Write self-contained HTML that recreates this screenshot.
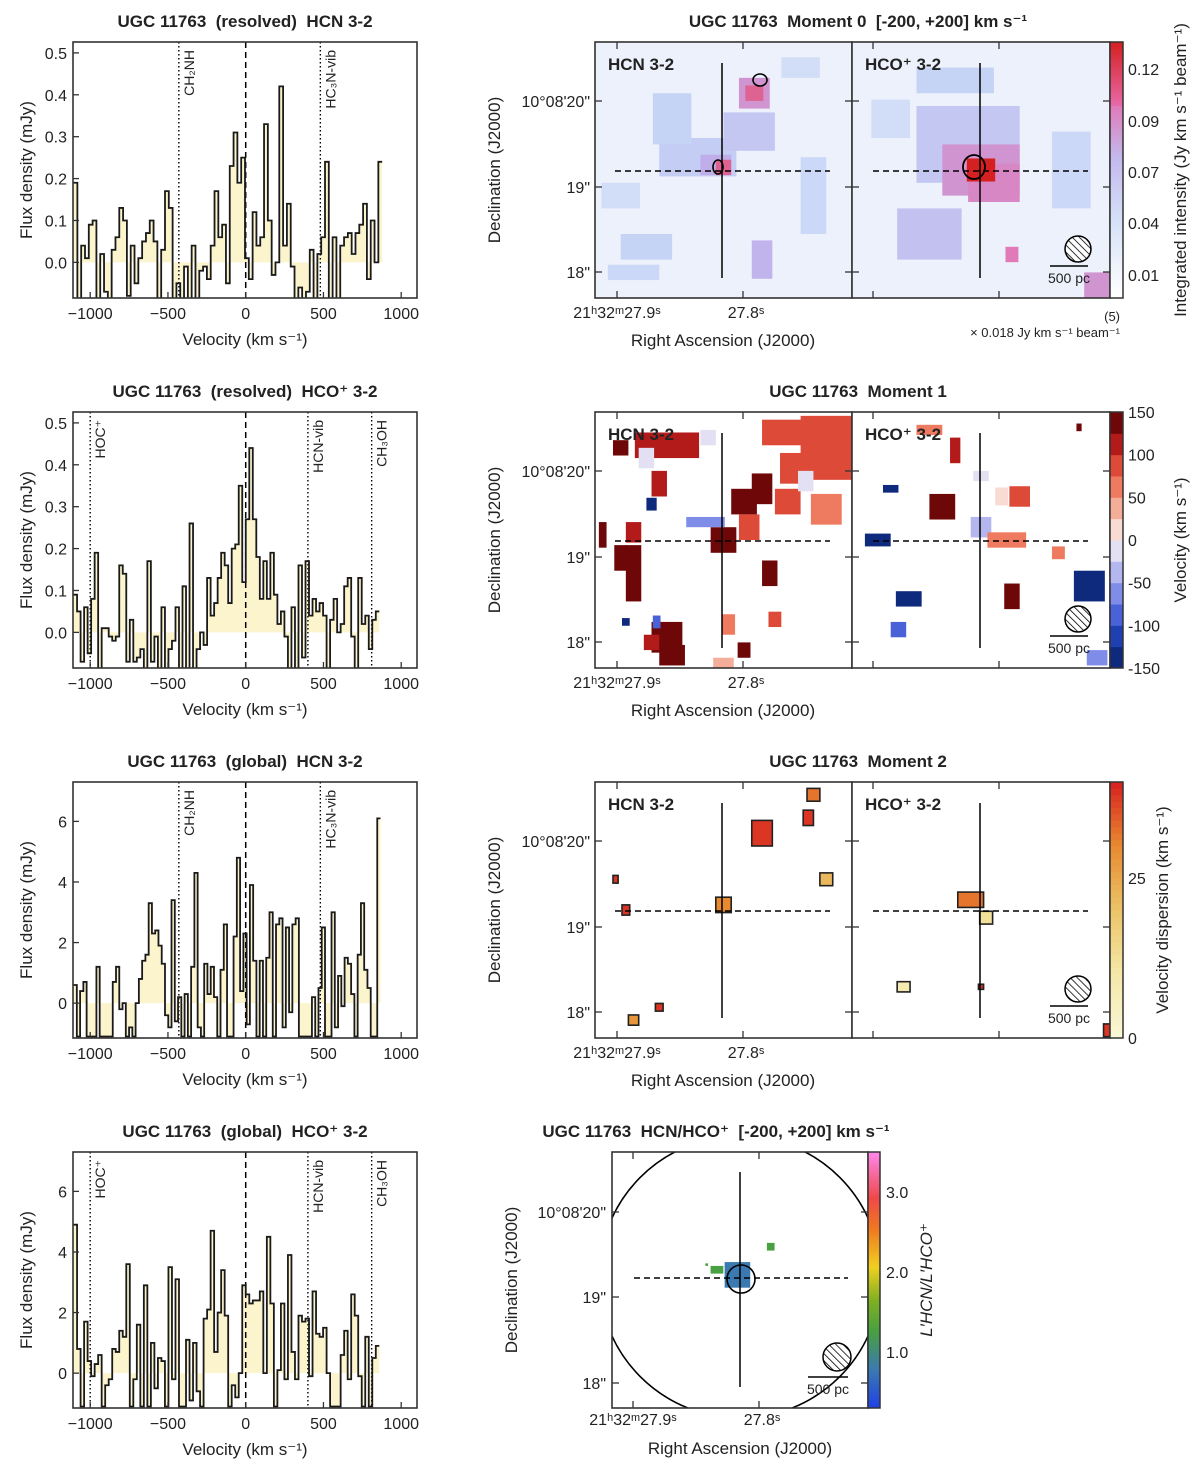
<!DOCTYPE html>
<html><head><meta charset="utf-8">
<style>
html,body{margin:0;padding:0;background:#fff;}
svg{display:block;font-family:"Liberation Sans","DejaVu Sans",sans-serif;white-space:pre;}
</style></head>
<body>
<svg id="fig" xmlns="http://www.w3.org/2000/svg" xml:space="preserve" width="1200" height="1467" viewBox="0 0 1200 1467">
<defs>
<pattern id="hatch" patternUnits="userSpaceOnUse" width="5" height="5" patternTransform="rotate(-45)">
<rect width="5" height="5" fill="#fff"/><line x1="0" y1="0" x2="0" y2="5" stroke="#000" stroke-width="1.6"/></pattern>
<linearGradient id="g-mom0" x1="0" y1="1" x2="0" y2="0">
<stop offset="0" stop-color="#ffffff"/><stop offset="0.3" stop-color="#d6e1f8"/><stop offset="0.55" stop-color="#c4b8ee"/><stop offset="0.75" stop-color="#e07ab8"/><stop offset="0.751" stop-color="#e869a8"/><stop offset="1" stop-color="#d42020"/></linearGradient>
<linearGradient id="g-ratio" x1="0" y1="1" x2="0" y2="0">
<stop offset="0" stop-color="#2040e8"/><stop offset="0.15" stop-color="#3a7ab0"/><stop offset="0.3" stop-color="#48a040"/><stop offset="0.42" stop-color="#80b020"/><stop offset="0.55" stop-color="#f0d020"/><stop offset="0.7" stop-color="#f07820"/><stop offset="0.82" stop-color="#f04848"/><stop offset="1" stop-color="#ff88ee"/></linearGradient>
</defs>
</svg>
<script>
// ---------------- data ----------------
const velTicks=[-1000,-500,0,500,1000];
const resolvedTicks=[0,0.1,0.2,0.3,0.4,0.5];
const globalTicks=[0,2,4,6];
const hcnResolvedFlux=[0.19,-0.1,0.04,0.01,0.09,0.1,-0.1,0.02,-0.07,-0.1,0.03,0.06,0.13,0.1,-0.08,0.04,-0.05,0.01,0.05,0.07,0.1,0.05,-0.1,0.03,0.17,0.13,-0.1,-0.05,-0.1,-0.01,-0.1,0.04,-0.1,-0.02,-0.01,-0.04,0.04,0.17,0.06,0.09,-0.05,0.23,0.31,0.19,0.25,0.01,-0.04,0.12,0.04,0.06,0.33,0.1,-0.03,0.0,0.42,0.04,0.14,-0.01,-0.1,-0.06,-0.1,-0.07,0.03,-0.1,0.02,0.06,0.24,-0.1,0.06,-0.1,0.04,0.06,0.07,0.02,0.07,0.09,0.14,-0.04,0.1,0.0,0.24];
const hcoResolvedFlux=[0.09,0.05,-0.07,0.06,-0.05,0.08,0.19,-0.1,0.01,0.01,-0.01,-0.02,-0.01,0.16,0.14,-0.07,0.03,-0.07,-0.06,-0.04,-0.1,0.17,-0.07,-0.01,-0.1,0.06,-0.1,-0.04,-0.02,0.06,-0.1,0.11,-0.1,0.26,-0.1,-0.04,0.0,-0.03,0.13,0.04,0.07,0.13,0.19,0.16,0.07,0.2,0.21,0.35,0.12,0.27,0.44,0.27,0.18,0.08,0.17,0.08,0.19,0.09,0.02,0.05,-0.01,-0.1,0.06,-0.1,0.16,-0.06,0.17,0.04,0.08,0.05,0.07,0.04,-0.1,0.03,0.08,0.0,0.02,0.11,0.13,-0.01,-0.1,0.13,0.02,0.04,-0.04,0.03,0.05];
const hcnGlobalFlux=[0.6,-1.1,0.4,0.7,-1.1,-1.1,-1.1,1.2,-1.1,-1.1,-1.1,-1.1,0.7,1.2,-0.2,0.0,-1.1,-0.8,-1.1,0.0,0.8,1.4,1.6,3.3,2.3,2.4,1.9,1.3,-0.4,-0.8,3.4,-0.6,0.2,-1.1,0.3,-1.1,1.2,4.3,-0.8,-1.1,1.3,0.3,1.2,0.2,-1.1,1.1,2.6,-1.1,-1.1,2.2,4.8,0.4,2.3,-0.7,3.9,1.4,-1.1,1.4,-1.1,1.5,3.0,-1.1,2.6,2.8,-0.8,2.5,-0.3,2.6,2.8,-1.1,-1.1,-1.1,-1.1,0.2,-1.1,0.5,2.5,-1.1,-1.1,3.0,-0.8,0.9,-0.1,1.5,1.3,0.3,-1.1,1.6,3.3,1.1,0.5,-1.1,-1.1,6.1];
const hcoGlobalFlux=[4.9,0.8,-1.1,1.7,0.4,-0.1,0.3,0.6,-1.1,-0.4,-0.2,0.8,0.7,1.4,1.2,3.6,-1.1,-0.2,1.6,-1.1,2.9,-1.1,1.0,-0.5,0.5,0.4,-1.1,3.5,-0.2,3.1,-1.1,-1.1,1.1,-0.9,1.0,-0.6,-1.1,1.8,2.1,4.7,0.7,2.0,3.4,1.9,-1.1,-0.4,-0.8,0.0,2.9,2.6,2.3,2.4,2.4,2.7,0.0,4.5,2.3,-1.1,0.1,2.3,-0.2,3.9,0.7,-0.2,1.9,1.7,1.8,-0.1,2.7,1.3,1.2,1.5,0.0,-1.1,-1.1,-1.1,0.6,1.4,-0.2,2.6,1.9,-0.1,-1.1,1.2,-1.1,0.5,0.9];
const hcnLines=[["CH₂NH",-430],["HC₃N-vib",480]];
const hcoLines=[["HOC⁺",-1000],["HCN-vib",400],["CH₃OH",810]];
// map blobs: [u, v, w, h, value] in panel fractions
const mom0Hcn=[[0.4,0.45,0.3,0.15,0.045],[0.6,0.35,0.2,0.15,0.05],[0.3,0.3,0.15,0.2,0.04],[0.65,0.85,0.08,0.15,0.065],[0.2,0.8,0.2,0.1,0.04],[0.85,0.6,0.1,0.3,0.035],[0.1,0.6,0.15,0.1,0.03],[0.62,0.2,0.12,0.12,0.08],[0.62,0.2,0.07,0.06,0.1],[0.47,0.48,0.12,0.08,0.07],[0.5,0.49,0.06,0.06,0.1],[0.15,0.9,0.2,0.06,0.035],[0.8,0.1,0.15,0.08,0.03]];
const mom0Hco=[[0.45,0.4,0.4,0.3,0.05],[0.5,0.5,0.3,0.2,0.08],[0.55,0.55,0.2,0.15,0.085],[0.5,0.5,0.11,0.09,0.13],[0.3,0.75,0.25,0.2,0.055],[0.62,0.83,0.05,0.06,0.09],[0.95,0.95,0.1,0.1,0.08],[0.4,0.15,0.3,0.1,0.04],[0.85,0.5,0.15,0.3,0.035],[0.15,0.3,0.15,0.15,0.03]];
const mom1Hcn=[[0.28,0.13,0.25,0.1,110],[0.1,0.14,0.06,0.06,150],[0.9,0.14,0.2,0.25,90],[0.75,0.08,0.2,0.1,90],[0.65,0.3,0.08,0.12,150],[0.58,0.35,0.1,0.1,150],[0.5,0.5,0.1,0.1,150],[0.43,0.43,0.15,0.04,-70],[0.6,0.45,0.08,0.1,80],[0.9,0.38,0.12,0.12,70],[0.75,0.35,0.1,0.1,80],[0.78,0.22,0.12,0.12,90],[0.15,0.63,0.06,0.22,140],[0.1,0.57,0.05,0.1,140],[0.3,0.95,0.1,0.08,150],[0.28,0.88,0.12,0.12,150],[0.22,0.9,0.06,0.06,110],[0.68,0.63,0.06,0.1,150],[0.12,0.82,0.03,0.03,-130],[0.2,0.18,0.06,0.08,-10],[0.15,0.47,0.06,0.08,120],[0.25,0.28,0.06,0.1,110],[0.52,0.83,0.05,0.08,60],[0.5,0.98,0.08,0.04,40],[0.44,0.1,0.06,0.06,-20],[0.82,0.27,0.06,0.08,-10],[0.58,0.93,0.05,0.06,150],[0.03,0.48,0.03,0.1,150],[0.22,0.36,0.04,0.05,-140],[0.7,0.81,0.05,0.06,80],[0.24,0.82,0.03,0.05,-80]];
const mom1Hco=[[0.35,0.37,0.1,0.1,140],[0.5,0.45,0.08,0.08,-50],[0.6,0.5,0.15,0.06,50],[0.65,0.33,0.08,0.08,80],[0.58,0.33,0.05,0.07,20],[0.1,0.5,0.1,0.05,-150],[0.92,0.68,0.12,0.12,-150],[0.22,0.73,0.1,0.06,-150],[0.18,0.85,0.06,0.06,-80],[0.62,0.72,0.06,0.1,150],[0.3,0.07,0.1,0.04,70],[0.4,0.15,0.04,0.1,100],[0.95,0.96,0.08,0.06,-70],[0.5,0.25,0.06,0.04,-20],[0.15,0.3,0.06,0.03,-130],[0.88,0.06,0.02,0.03,150],[0.8,0.55,0.05,0.05,50]];
const mom2Hcn=[[0.5,0.48,0.06,0.06,30],[0.65,0.2,0.08,0.1,38],[0.9,0.38,0.05,0.05,22],[0.15,0.93,0.04,0.04,28],[0.25,0.88,0.03,0.03,38],[0.83,0.14,0.04,0.06,38],[0.85,0.05,0.05,0.05,32],[0.12,0.5,0.03,0.04,38],[0.08,0.38,0.02,0.03,38]];
const mom2Hco=[[0.46,0.46,0.1,0.06,32],[0.52,0.53,0.05,0.05,12],[0.2,0.8,0.05,0.04,8],[0.99,0.97,0.03,0.05,38],[0.5,0.8,0.02,0.02,38]];
const ratioBlobs=[[0.49,0.48,0.1,0.1,0.75],[0.41,0.46,0.05,0.03,1.25],[0.62,0.37,0.03,0.03,1.25],[0.37,0.44,0.01,0.01,1.25]];
const mom0Ticks=[["0.12",69],["0.09",121],["0.07",172],["0.04",223],["0.01",275]];
const mom1Ticks=[150,100,50,0,-50,-100,-150];
const mom2Ticks=[0,25];
const ratioTicks=[1.0,2.0,3.0];

// ---------------- helpers ----------------
const NS="http://www.w3.org/2000/svg";
const svg=document.getElementById('fig');
function el(tag,attrs,parent,text){const e=document.createElementNS(NS,tag);for(const k in attrs)e.setAttribute(k,attrs[k]);if(text!==undefined)e.textContent=text;(parent||svg).appendChild(e);return e;}
function txt(x,y,s,size,parent,anchor,weight,rot){const t=el('text',{x:x,y:y,'font-size':size,'text-anchor':anchor||'middle','font-weight':weight||'normal',fill:'#222'},parent,s);t.style.whiteSpace='pre';if(rot)t.setAttribute('transform','rotate('+rot+' '+x+' '+y+')');return t;}

// ---------------- spectra ----------------
const specX0=73,specX1=417;
function xv(v){return 245.7+v*0.1555;}
function drawSpectrum(idx,top,dom,ticks,fmt,flux,chan,lines,title){
  const g=el('g',{},svg);
  
  
  const bot=top+256;
  const ys=f=>bot-(f-dom[0])/(dom[1]-dom[0])*256;
  const cid='clip'+idx;
  const cp=el('clipPath',{id:cid},g);el('rect',{x:specX0,y:top,width:specX1-specX0,height:256},cp);
  const vStart=-1107;
  let fill='M'+xv(vStart)+','+ys(0),line='';
  flux.forEach((f,i)=>{const a=xv(vStart+i*chan),b=xv(vStart+(i+1)*chan);
    fill+=' L'+a+','+ys(f)+' L'+b+','+ys(f);
    line+=(i===0?'M':' L')+a+','+ys(f)+' L'+b+','+ys(f);});
  fill+=' L'+xv(vStart+flux.length*chan)+','+ys(0)+'Z';
  const cg=el('g',{'clip-path':'url(#'+cid+')'},g);
  const fa=el('path',{d:fill,fill:'#fcf4cc',stroke:'none'},cg);
  
  
  lines.forEach(l=>{el('line',{x1:xv(l[1]),x2:xv(l[1]),y1:top,y2:bot,stroke:'#000','stroke-width':1.4,'stroke-dasharray':'1.5,2.5'},cg);});
  el('line',{x1:xv(0),x2:xv(0),y1:top,y2:bot,stroke:'#000','stroke-width':1.5,'stroke-dasharray':'6,4'},cg);
  const sp=el('path',{d:line,fill:'none',stroke:'#1a1a1a','stroke-width':1.8},cg);
  
  
  lines.forEach(l=>{const t=txt(xv(l[1])+15,top+8,l[0],14,g,'end','normal',-90);
    
    });
  el('rect',{x:specX0,y:top,width:specX1-specX0,height:256,fill:'none',stroke:'#333','stroke-width':1.6},g);
  velTicks.forEach(v=>{el('line',{x1:xv(v),x2:xv(v),y1:bot,y2:bot-6,stroke:'#333','stroke-width':1.3},g);
    txt(xv(v),bot+21,(v<0?'−':'')+Math.abs(v),16,g);});
  ticks.forEach(t=>{el('line',{x1:specX0,x2:specX0+6,y1:ys(t),y2:ys(t),stroke:'#333','stroke-width':1.3},g);
    txt(specX0-6,ys(t)+6,fmt(t),16,g,'end');});
  const tt=txt(245,top-15,title,17,g,'middle','bold');
  
  
  txt(245,bot+47,'Velocity (km s⁻¹)',17,g);
  txt(32,top+128,'Flux density (mJy)',17,g,'middle','normal',-90);
}
const f1=t=>t.toFixed(1),f0=t=>String(t);
drawSpectrum(1,42,[-0.085,0.526],resolvedTicks,f1,hcnResolvedFlux,24.5,hcnLines,'UGC 11763  (resolved)  HCN 3-2');
drawSpectrum(2,412,[-0.085,0.526],resolvedTicks,f1,hcoResolvedFlux,22.6,hcoLines,'UGC 11763  (resolved)  HCO⁺ 3-2');
drawSpectrum(3,782,[-1.15,7.3],globalTicks,f0,hcnGlobalFlux,21,hcnLines,'UGC 11763  (global)  HCN 3-2');
drawSpectrum(4,1152,[-1.15,7.3],globalTicks,f0,hcoGlobalFlux,22.6,hcoLines,'UGC 11763  (global)  HCO⁺ 3-2');

// ---------------- maps ----------------
function lerpColor(stops,v){
  if(v<=stops[0][0])return stops[0][1];
  for(let i=1;i<stops.length;i++){if(v<=stops[i][0]){const a=stops[i-1],b=stops[i],t=(v-a[0])/(b[0]-a[0]);
    const ca=[1,3,5].map(k=>parseInt(a[1].substr(k,2),16)),cb=[1,3,5].map(k=>parseInt(b[1].substr(k,2),16));
    return 'rgb('+ca.map((c,j)=>Math.round(c+(cb[j]-c)*t)).join(',')+')';}}
  return stops[stops.length-1][1];}
const mom0Stops=[[0,'#ffffff'],[0.02,'#dfe7fb'],[0.04,'#c5d3f5'],[0.07,'#c0aeea'],[0.09,'#e07ab8'],[0.13,'#d42020']];
const mom1Colors=['#0d2a7c','#1f40b0','#4a62d8','#7f8de8','#b4b6f0','#e2e0f2','#f8dcd4','#f4ad98','#ee7a60','#dd4a38','#b31a1a','#6e0808'];
const mom1Color=v=>mom1Colors[Math.max(0,Math.min(11,Math.floor((v+150)/25)))];
const mom2Stops=[[0,'#fbf7d6'],[10,'#f4e8a8'],[20,'#ecc468'],[30,'#e88a30'],[40,'#d82020']];
const ratioStops=[[0.3,'#2040e8'],[0.75,'#3a7ab0'],[1.25,'#48a040'],[1.6,'#80b020'],[2.0,'#f0d020'],[2.6,'#f07820'],[3.0,'#f04848'],[3.5,'#ff88ee']];

function mapPanel(name,x0,y0,W,H,bg,blobs,colorFn,outline){
  const g=el('g',{},svg);
  
  
  const cid='c-'+name;const cp=el('clipPath',{id:cid},g);el('rect',{x:x0,y:y0,width:W,height:H},cp);
  const cg=el('g',{'clip-path':'url(#'+cid+')'},g);
  el('rect',{x:x0,y:y0,width:W,height:H,fill:bg},cg);
  blobs.forEach(b=>{const r=el('rect',{x:x0+(b[0]-b[2]/2)*W,y:y0+(b[1]-b[3]/2)*H,width:b[2]*W,height:b[3]*H,fill:colorFn(b[4]),stroke:outline?'#222':'none','stroke-width':outline?1.6:0},cg);
    
    });
  return {g:g,cg:cg};
}
function crossAndFrame(p,x0,y0,W,H,cx,cy,vtop,vbot,dl,dr,label,xt,yt){
  el('line',{x1:cx,x2:cx,y1:vtop,y2:vbot,stroke:'#000','stroke-width':1.5},p.cg);
  el('line',{x1:dl,x2:dr,y1:cy,y2:cy,stroke:'#000','stroke-width':1.5,'stroke-dasharray':'6,4'},p.cg);
  el('rect',{x:x0,y:y0,width:W,height:H,fill:'none',stroke:'#333','stroke-width':1.6},p.g);
  xt.forEach(x=>{el('line',{x1:x,x2:x,y1:y0+H,y2:y0+H-7,stroke:'#333','stroke-width':1.3},p.g);el('line',{x1:x,x2:x,y1:y0,y2:y0+7,stroke:'#333','stroke-width':1.3},p.g);});
  yt.forEach(y=>{el('line',{x1:x0,x2:x0+7,y1:y,y2:y,stroke:'#333','stroke-width':1.3},p.g);el('line',{x1:x0+W,x2:x0+W-7,y1:y,y2:y,stroke:'#333','stroke-width':1.3},p.g);});
  if(label){const t=txt(x0+13,y0+28,label,17,p.g,'start','bold');
    
    }
}
function beam(g,cx,cy,rx,ry,barX1,barX2,barY){
  el('ellipse',{cx:cx,cy:cy,rx:rx,ry:ry,fill:'url(#hatch)',stroke:'#000','stroke-width':1.5},g);
  el('line',{x1:barX1,x2:barX2,y1:barY,y2:barY,stroke:'#000','stroke-width':1.6},g);
  txt((barX1+barX2)/2,barY+17,'500 pc',14,g);
}
function raDecLabels(g,row){
  const dy=row*370;
  [["10°08'20\"",101],["19\"",187],["18\"",272]].forEach(d=>txt(590,d[1]+dy+6,d[0],16,g,'end'));
  txt(617,318+dy,'21ʰ32ᵐ27.9ˢ',16,g);
  txt(746,318+dy,'27.8ˢ',16,g);
  txt(723,346+dy,'Right Ascension (J2000)',17,g);
  txt(500,170+dy,'Declination (J2000)',17,g,'middle','normal',-90);
}
const Lx=595,Rx=852,PW=257,PH=256;
const yTicksRow=r=>[101+r*370,187+r*370,272+r*370];
function drawMomentRow(row,hcn,hco,bg,colorFn,outline,title){
  const y0=42+row*370;
  const a=mapPanel('map-hcn-row'+(row+1),Lx,y0,PW,PH,bg,hcn,colorFn,outline);
  crossAndFrame(a,Lx,y0,PW,PH,722,y0+129,y0+21,y0+236,615,830,'HCN 3-2',[617,743],yTicksRow(row));
  const b=mapPanel('map-hco-row'+(row+1),Rx,y0,PW+1,PH,bg,hco,colorFn,outline);
  crossAndFrame(b,Rx,y0,PW+1,PH,980,y0+129,y0+21,y0+236,873,1088,'HCO⁺ 3-2',[873,999],yTicksRow(row));
  beam(b.g,1078,y0+207,13,13,1050,1088,y0+224);
  raDecLabels(svg,row);
  const t=txt(858,y0-15,title,17,svg,'middle','bold');
  
  
  return [a,b];
}
// row 1 moment 0
const r1=drawMomentRow(0,mom0Hcn,mom0Hco,'#edf1fb',v=>lerpColor(mom0Stops,v),false,'UGC 11763  Moment 0  [-200, +200] km s⁻¹');
el('ellipse',{cx:760,cy:80,rx:7,ry:6,fill:'none',stroke:'#000','stroke-width':1.6},r1[0].g);
el('ellipse',{cx:718,cy:167,rx:5,ry:7,fill:'none',stroke:'#000','stroke-width':1.6},r1[0].g);
el('ellipse',{cx:974,cy:167,rx:11,ry:12,fill:'none',stroke:'#000','stroke-width':1.8},r1[1].g);
// row 2 moment 1
drawMomentRow(1,mom1Hcn,mom1Hco,'#ffffff',mom1Color,false,'UGC 11763  Moment 1');
// row 3 moment 2
drawMomentRow(2,mom2Hcn,mom2Hco,'#ffffff',v=>lerpColor(mom2Stops,v),true,'UGC 11763  Moment 2');

// colorbars
function cbarFrame(x,y,w,h){el('rect',{x:x,y:y,width:w,height:h,fill:'none',stroke:'#333','stroke-width':1.5});}
const cb0=el('rect',{x:1110,y:42,width:13,height:256,fill:'url(#g-mom0)'});


cbarFrame(1110,42,13,256);
mom0Ticks.forEach(t=>{txt(1128,t[1]+6,t[0],16,svg,'start');});
txt(1186,170,'Integrated intensity (Jy km s⁻¹ beam⁻¹)',17,svg,'middle','normal',-90);
txt(1120,321,'(5)',13,svg,'end');
txt(1120,337,'× 0.018 Jy km s⁻¹ beam⁻¹',13,svg,'end');
// mom1 colorbar
const cb1=el('g',{});


mom1Colors.forEach((c,i)=>{el('rect',{x:1110,y:412+256-(i+1)*256/12,width:13,height:256/12+0.5,fill:c},cb1);});
cbarFrame(1110,412,13,256);
mom1Ticks.forEach(v=>{txt(1128,412+256-(v+150)/300*256+6,(v<0?'-':'')+Math.abs(v),16,svg,'start');});
txt(1186,540,'Velocity (km s⁻¹)',17,svg,'middle','normal',-90);
// mom2 colorbar
const cb2=el('g',{});


for(let i=0;i<40;i++){el('rect',{x:1110,y:782+256-(i+1)*256/40,width:13,height:256/40+0.5,fill:lerpColor(mom2Stops,i+0.5)},cb2);}
cbarFrame(1110,782,13,256);
mom2Ticks.forEach(v=>{txt(1128,782+256-v/40*256+6,String(v),16,svg,'start');});
txt(1168,910,'Velocity dispersion (km s⁻¹)',17,svg,'middle','normal',-90);

// ---------------- ratio map ----------------
const rx0=612,ry0=1152;
const rp=mapPanel('map-ratio',rx0,ry0,256,256,'#ffffff',ratioBlobs,v=>lerpColor(ratioStops,v),false);
el('circle',{cx:740,cy:1277,r:141,fill:'none',stroke:'#000','stroke-width':1.6},rp.cg);
el('circle',{cx:741,cy:1279,r:14,fill:'none',stroke:'#000','stroke-width':1.6},rp.cg);
crossAndFrame(rp,rx0,ry0,256,256,740,1278,1172,1387,634,848,'',[633,759],[1212,1297,1383]);
beam(rp.g,837,1357,14,14,808,848,1377);
[["10°08'20\"",1212],["19\"",1297],["18\"",1383]].forEach(d=>txt(606,d[1]+6,d[0],16,svg,'end'));
txt(633,1425,'21ʰ32ᵐ27.9ˢ',16,svg);
txt(762,1425,'27.8ˢ',16,svg);
txt(740,1454,'Right Ascension (J2000)',17,svg);
txt(517,1280,'Declination (J2000)',17,svg,'middle','normal',-90);
const rt=txt(716,1137,'UGC 11763  HCN/HCO⁺  [-200, +200] km s⁻¹',17,svg,'middle','bold');


const cb3=el('rect',{x:868,y:1152,width:12,height:256,fill:'url(#g-ratio)'});


cbarFrame(868,1152,12,256);
ratioTicks.forEach(v=>{txt(886,1408-(v-0.3)/3.2*256+6,v.toFixed(1),16,svg,'start');});
txt(932,1280,"L′HCN/L′HCO⁺",17,svg,'middle','normal',-90).setAttribute('font-style','italic');
</script>
</body></html>
